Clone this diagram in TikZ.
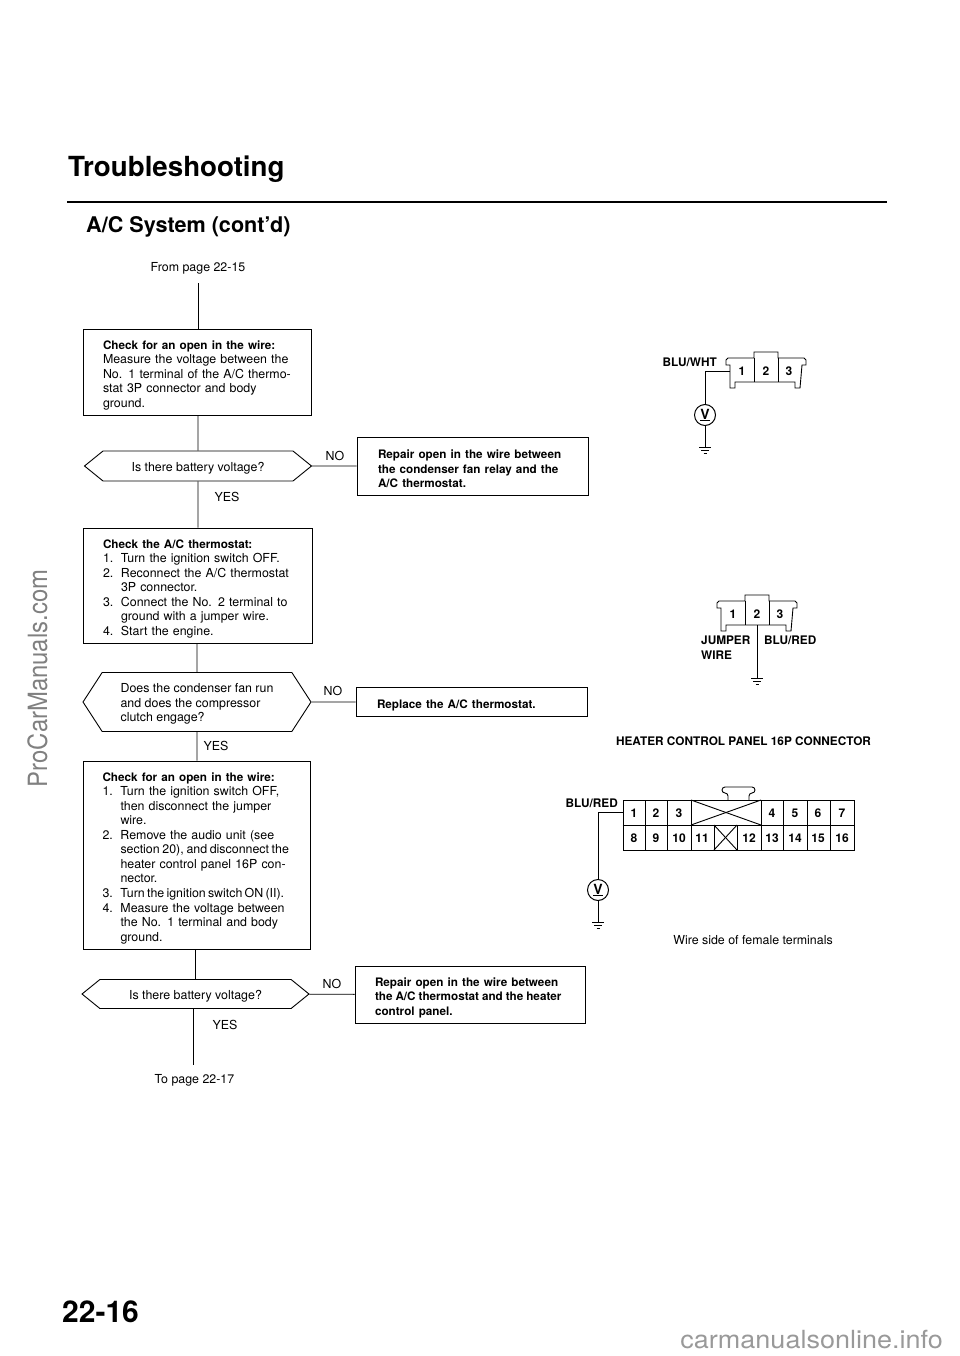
\documentclass[tikz,border=0pt]{standalone}
\usepackage{fontspec}
\setmainfont{TeX Gyre Heros}
\usepackage{tikz}
\usetikzlibrary{shapes.symbols}
\newcommand{\stepfont}{\fontsize{12.4}{14.55}\selectfont\tolerance=9999\hyphenpenalty=10000\relax}
\newcommand{\stepbold}[1]{{\fontsize{11.7}{14.55}\selectfont\bfseries #1}}
\newcommand{\stepitem}[2]{\par\hangindent=18pt\hangafter=1\noindent\makebox[18pt][l]{#1}#2\par}
\newcommand{\tightwords}[1]{{\spaceskip=.18em plus .5em\relax #1}}
\tikzset{
	wire/.style={line width=0.9pt},
	label/.style={font=\stepfont,anchor=base,inner sep=0pt},
	pinno/.style={font=\fontsize{12}{12}\selectfont\bfseries,inner sep=0pt},
	wirelabel/.style={font=\fontsize{11.8}{14}\selectfont\bfseries,inner sep=0pt,anchor=base west},
	stepbox/.style={draw,line width=0.9pt,inner xsep=0pt,inner ysep=0pt,font=\stepfont,minimum width=#1,execute at begin node={\rule{0pt}{15pt}}},
	askbox/.style={draw,line width=0.9pt,shape=signal,signal to=west and east,inner xsep=0pt,inner ysep=0pt,font=\stepfont,minimum width=#1},
	voltm/.style={draw,circle,line width=1pt,minimum size=21pt,inner sep=0pt,font=\fontsize{14}{14}\selectfont\bfseries},
	mark/.style={font=\fontsize{#1}{#1}\selectfont,inner sep=0pt},
	threep/.pic={
		\draw [wire] (0,7) -- (0,2) to[out=-90,in=180] (2,0) -- (28,0) -- (28,-6) -- (52,-6) -- (52,0) -- (78,0) to[out=0,in=-90] (80,2) -- (80,7) -- (76,7) -- (74,30) -- (69,30) -- (69,24) -- (9,24) -- (9,30) -- (4,30) -- (4,7) -- cycle;
		\draw [wire] (28,0) -- (28,24);
		\draw [wire] (52,0) -- (52,24);
		\node (-one) [pinno] at (16,13) {1};
		\node (-two) [pinno] at (40,13) {2};
		\node (-three) [pinno] at (63,13) {3};
	},
	gnd/.pic={
		\draw [wire] (-6,0) -- (6,0);
		\draw [wire] (-4,3) -- (4,3);
		\draw [wire] (-1.5,6) -- (1.5,6);
	},
}

\begin{document}
\begin{tikzpicture}[x=1pt,y=-1pt]
		\useasboundingbox (0,0) rectangle (960,1356);
		\node (wmleft) [mark=26.5,text=black!50,rotate=90,anchor=base] at (47,678.5) {\scalebox{.9}[1]{ProCarManuals.com}};
		\node (wmright) [mark=25,text=black!40,anchor=base east] at (943,1348) {\scalebox{1.08}[1]{carmanualsonline.info}};
		%
		\node (title) [font=\fontsize{27.7}{30}\selectfont\bfseries,anchor=base west,inner sep=0pt] at (68,177) {Troubleshooting};
		\node (system) [font=\fontsize{21.6}{24}\selectfont\bfseries,anchor=base west,inner sep=0pt] at (86,233) {A/C System (cont'd)};
		\node (pagenum) [font=\fontsize{30}{34}\selectfont\bfseries,anchor=base west,inner sep=0pt] at (62,1322) {22-16};
		\coordinate (rulel) at (67,202);
		\coordinate (ruler) at (887,202);
		\draw [line width=1.4pt] (rulel) to (ruler);
		%
		\node (fromp) [label] at (198,272) {From page 22-15};
		\coordinate (starta) at (198,283);
		\node (checka) [stepbox=228pt,minimum height=86pt,text width=188pt] at (197,372) {\stepbold{Check for an open in the wire:}\\Measure the voltage between the\linebreak No. 1 terminal of the A/C thermo-\linebreak stat 3P connector and body\linebreak ground.};
		\node (aska) [askbox=227pt,minimum height=30pt,signal pointer angle=78] at (198,466) {\rule{0pt}{14pt}Is there battery voltage?};
		\node (repaira) [stepbox=231pt,minimum height=58pt,text width=189pt] at (472.5,466) {\stepbold{Repair open in the wire between\linebreak the condenser fan relay and the\linebreak A/C thermostat.}};
		\node (noa) [label] at (335,460) {NO};
		\node (yesa) [label] at (227,501) {YES};
		\node (checkb) [stepbox=229pt,minimum height=115pt,text width=189pt] at (197.5,585.5) {\stepbold{Check the A/C thermostat:}%
			\stepitem{1.}{Turn the ignition switch OFF.}%
			\stepitem{2.}{Reconnect the A/C thermostat\linebreak 3P connector.}%
			\stepitem{3.}{Connect the No. 2 terminal to\linebreak ground with a jumper wire.}%
			\stepitem{4.}{Start the engine.}};
		\node (askb) [askbox=228pt,minimum height=59pt,signal pointer angle=114,align=left] at (197,702) {\rule{0pt}{13pt}Does the condenser fan run\\and does the compressor\\clutch engage?};
		\node (replace) [stepbox=231pt,minimum height=29pt,text width=189pt] at (471.5,702) {\stepbold{Replace the A/C thermostat.}};
		\node (nob) [label] at (333,695) {NO};
		\node (yesb) [label] at (216,750) {YES};
		\node (checkc) [stepbox=227pt,minimum height=188pt,text width=188pt] at (196.5,855) {\stepbold{Check for an open in the wire:}%
			\stepitem{1.}{Turn the ignition switch OFF,\linebreak then disconnect the jumper\linebreak wire.}%
			\stepitem{2.}{Remove the audio unit (see\linebreak \tightwords{section 20), and disconnect the}\linebreak heater control panel 16P con-\linebreak nector.}%
			\stepitem{3.}{\tightwords{Turn the ignition switch ON (II).}}%
			\stepitem{4.}{Measure the voltage between\linebreak the No. 1 terminal and body\linebreak ground.}};
		\node (askc) [askbox=227pt,minimum height=29pt,signal pointer angle=78] at (195.5,994) {\rule{0pt}{14pt}Is there battery voltage?};
		\node (repairb) [stepbox=230pt,minimum height=57pt,text width=190pt] at (470,994.5) {\stepbold{Repair open in the wire between\linebreak \tightwords{the A/C thermostat and the heater}\linebreak control panel.}};
		\node (noc) [label] at (332,988) {NO};
		\node (yesc) [label] at (225,1029) {YES};
		\coordinate (enda) at (193,1065);
		\node (top) [label] at (194.5,1083) {To page 22-17};
		%
		\draw [wire] (starta) to (checka.north -| starta);
		\draw [wire] (checka.south -| aska) to (aska);
		\draw [wire] (aska) to (checkb.north -| aska);
		\draw [wire] (checkb.south -| askb) to (askb);
		\draw [wire] (askb) to (checkc.north -| askb);
		\draw [wire] (checkc.south -| askc) to (askc);
		\draw [wire] (askc.south -| enda) to (enda);
		\draw [wire] (aska) to (repaira);
		\draw [wire] (askb) to (replace);
		\draw [wire] (askc) to (repairb);
		%
		\node (bluwht) [wirelabel,anchor=base east] at (717,366) {BLU/WHT};
		\pic (cona) at (726,358) {threep};
		\coordinate (wirea) at (730,371);
		\node (volta) [voltm] at (705,415) {\underline{V}};
		\coordinate (grounda) at (705,447);
		\pic at (grounda) {gnd};
		\draw [wire] (wirea) -| (volta.north);
		\draw [wire] (volta) to (grounda);
		%
		\pic (conb) at (717,601) {threep};
		\coordinate (wireb) at (757,625);
		\coordinate (groundb) at (757,678);
		\pic at (groundb) {gnd};
		\draw [wire] (wireb) to (groundb);
		\node (jumper) [wirelabel] at (701,644) {JUMPER};
		\node (jwire) [wirelabel] at (701,659) {WIRE};
		\node (blureda) [wirelabel] at (764,644) {BLU/RED};
		%
		\node (heater) [wirelabel,anchor=base] at (743.5,745) {HEATER CONTROL PANEL 16P CONNECTOR};
		\node (blueredc) [wirelabel,anchor=base east] at (618,807) {BLU/RED};
		\node (panel) [draw,line width=0.9pt,minimum width=231pt,minimum height=50pt,inner sep=0pt] at (738.5,825) {};
		\draw [wire] (panel.west) to (panel.east);
		\draw [wire,rounded corners=3pt] (728,800) -- (728,793) -- (722,793) -- (722,787) -- (755,787) -- (755,793) -- (749,793) -- (749,800);
		\draw [wire] (645,800) -- (645,850);
		\draw [wire] (667,800) -- (667,850);
		\draw [wire] (691,800) -- (691,850);
		\draw [wire] (761,800) -- (761,850);
		\draw [wire] (783,800) -- (783,850);
		\draw [wire] (807,800) -- (807,850);
		\draw [wire] (830,800) -- (830,850);
		\draw [wire] (714,825) -- (714,850);
		\draw [wire] (737,825) -- (737,850);
		\draw [wire] (691,800) -- (761,825);
		\draw [wire] (691,825) -- (761,800);
		\draw [wire] (714,825) -- (737,850);
		\draw [wire] (714,850) -- (737,825);
		\node (pa) [pinno] at (634,813) {1};
		\node (pb) [pinno] at (656,813) {2};
		\node (pc) [pinno] at (679,813) {3};
		\node (pd) [pinno] at (772,813) {4};
		\node (pe) [pinno] at (795,813) {5};
		\node (pf) [pinno] at (818,813) {6};
		\node (pg) [pinno] at (842,813) {7};
		\node (ph) [pinno] at (634,838) {8};
		\node (pi) [pinno] at (656,838) {9};
		\node (pj) [pinno] at (679,838) {10};
		\node (pk) [pinno] at (702,838) {11};
		\node (pl) [pinno] at (749,838) {12};
		\node (pm) [pinno] at (772,838) {13};
		\node (pn) [pinno] at (795,838) {14};
		\node (po) [pinno] at (818,838) {15};
		\node (pp) [pinno] at (842,838) {16};
		\coordinate (wirec) at (623,812);
		\node (voltc) [voltm] at (598,890) {\underline{V}};
		\coordinate (groundc) at (598,922);
		\pic at (groundc) {gnd};
		\draw [wire] (wirec) -| (voltc.north);
		\draw [wire] (voltc) to (groundc);
		\node (wireside) [label] at (753,944) {Wire side of female terminals};
	\end{tikzpicture}
\end{document}
